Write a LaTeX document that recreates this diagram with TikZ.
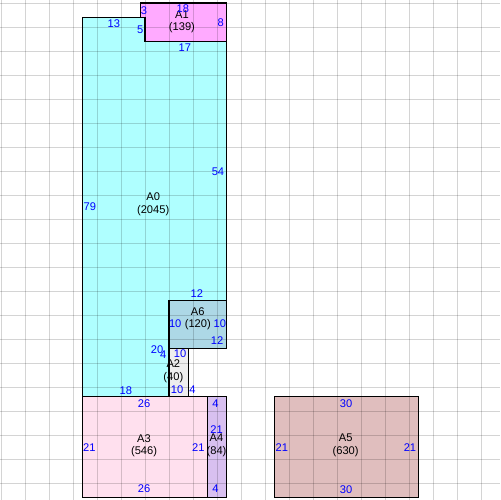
\documentclass[tikz,border=0pt]{standalone}
\usepackage{fontspec}
\setmainfont{Liberation Sans}
\definecolor{fillA0}{RGB}{175,255,255}
\definecolor{fillA1}{RGB}{255,170,255}
\definecolor{fillA2}{RGB}{238,238,238}
\definecolor{fillA3}{RGB}{255,224,238}
\definecolor{fillA4}{RGB}{216,192,240}
\definecolor{fillA5}{RGB}{224,190,190}
\definecolor{fillA6}{RGB}{173,216,230}
\tikzset{
  len/.style={text=blue,font=\fontsize{6.6}{7.5}\selectfont,inner sep=0pt},
  tag/.style={align=center,font=\fontsize{6.6}{7.4}\selectfont,inner sep=0pt},
  gridline/.style={black,draw opacity=.17,line width=.55pt},
  outline/.style={black,line width=.8pt}
}
\begin{document}
\begin{tikzpicture}[x=.1cm,y=-.1cm]
                \useasboundingbox (-0.2083,-0.625) rectangle (103.958,103.542);
                \fill[fillA0] (17,3) -- (30,3) -- (30,8) -- (47,8) -- (47,62) -- (35,62) -- (35,82) -- (17,82) -- cycle;
                \fill[fillA1] (29,0) -- (47,0) -- (47,8) -- (30,8) -- (30,3) -- (29,3) -- cycle;
                \fill[fillA6] (35,62) rectangle (47,72);
                \fill[fillA2] (35,72) rectangle (39,82);
                \fill[fillA3] (17,82) rectangle (43,103);
                \fill[fillA4] (43,82) rectangle (47,103);
                \fill[fillA5] (57,82) rectangle (87,103);
                \foreach \i in {0,5,...,100}
                {
                    \draw[gridline] (\i,-0.625) -- (\i,103.542);
                    \draw[gridline] (-0.2083,\i) -- (103.958,\i);
                }
                \draw[outline] (17,3) -- (30,3) -- (30,8) -- (47,8) -- (47,62) -- (35,62) -- (35,82) -- (17,82) -- cycle;
                \draw[outline] (29,0) -- (47,0) -- (47,8) -- (30,8) -- (30,3) -- (29,3) -- cycle;
                \draw[outline] (35,62) rectangle (47,72);
                \draw[outline] (35,72) rectangle (39,82);
                \draw[outline] (17,82) rectangle (43,103);
                \draw[outline] (43,82) rectangle (47,103);
                \draw[outline] (57,82) rectangle (87,103);
                % A0
                \node[tag] (A0) at (31.7,41.9) {A0\\(2045)};
                \node[len] (A0top) at (23.5,4.4) {13};
                \node[len] (A0step) at (29,5.6) {5};
                \node[len] (A0ledge) at (38.3,9.4) {17};
                \node[len] (A0right) at (45.2,35.2) {54};
                \node[len] (A0shelf) at (40.8,60.6) {12};
                \node[len] (A0inner) at (32.5,72.3) {20};
                \node[len] (A0bottom) at (26,80.8) {18};
                \node[len] (A0left) at (18.5,42.5) {79};
                % A1
                \node[tag] (A1) at (37.7,3.9) {A1\\(139)};
                \node[len] (A1left) at (29.8,1.7) {3};
                \node[len] (A1top) at (37.9,1.2) {18};
                \node[len] (A1right) at (45.8,4.2) {8};
                % A6
                \node[tag] (A6) at (41,65.8) {A6\\(120)};
                \node[len] (A6left) at (36.3,66.9) {10};
                \node[len] (A6right) at (45.6,66.9) {10};
                \node[len] (A6bottom) at (45,70.4) {12};
                % A2
                \node[tag] (A2) at (35.9,76.7) {A2\\(40)};
                \node[len] (A2top) at (33.8,73.3) {4};
                \node[len] (A2left) at (37.3,73.1) {10};
                \node[len] (A2right) at (36.7,80.5) {10};
                \node[len] (A2bottom) at (39.9,80.5) {4};
                % A3
                \node[tag] (A3) at (29.8,92.2) {A3\\(546)};
                \node[len] (A3top) at (29.8,83.4) {26};
                \node[len] (A3bottom) at (29.8,101.2) {26};
                \node[len] (A3left) at (18.4,92.6) {21};
                \node[len] (A3right) at (41.1,92.6) {21};
                % A4
                \node[tag] (A4) at (44.9,92.2) {A4\\(84)};
                \node[len] (A4top) at (44.7,83.4) {4};
                \node[len] (A4right) at (44.9,88.8) {21};
                \node[len] (A4bottom) at (44.7,101.2) {4};
                % A5
                \node[tag] (A5) at (71.8,92.1) {A5\\(630)};
                \node[len] (A5top) at (71.9,83.4) {30};
                \node[len] (A5bottom) at (71.9,101.4) {30};
                \node[len] (A5left) at (58.5,92.6) {21};
                \node[len] (A5right) at (85.2,92.6) {21};
            \end{tikzpicture}
\end{document}
